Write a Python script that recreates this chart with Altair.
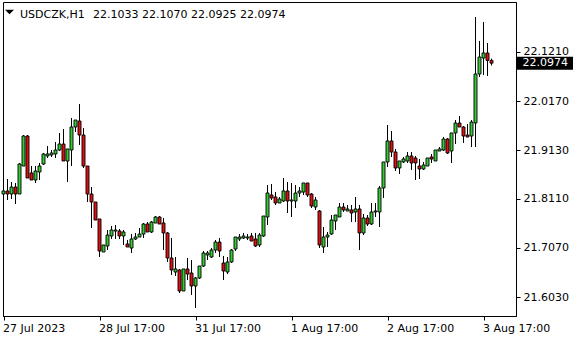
import json
import altair as alt
import pandas as pd

symbol = "USDCZK"
timeframe = "H1"

opens = [
    21.8208, 21.8272, 21.8208, 21.8356, 21.8208, 21.8800, 21.9434, 21.8652, 21.8504, 21.8673,
    21.8842, 21.9012, 21.9033, 21.9054, 21.9138, 21.9265, 21.8906, 21.9138, 21.9625, 21.9751,
    21.9455, 21.8800, 21.8208, 21.8039, 21.7680, 21.6982, 21.7109, 21.7320, 21.7426, 21.7426,
    21.7320, 21.7151, 21.7066, 21.7257, 21.7299, 21.7362, 21.7574, 21.7405, 21.7595, 21.7722,
    21.7595, 21.7384, 21.6855, 21.6559, 21.6602, 21.6158, 21.6623, 21.6538, 21.6263, 21.6432,
    21.6686, 21.6919, 21.6876, 21.7024, 21.7193, 21.6749, 21.6559, 21.6771, 21.7045, 21.7257,
    21.7278, 21.7278, 21.7320, 21.7257, 21.7130, 21.7320, 21.7722, 21.8187, 21.8145, 21.8018,
    21.8060, 21.8272, 21.8060, 21.8060, 21.8229, 21.8250, 21.8441, 21.8208, 21.7933, 21.7849,
    21.7088, 21.7299, 21.7362, 21.7637, 21.7722, 21.7933, 21.7849, 21.7870, 21.7828, 21.7891,
    21.7384, 21.7701, 21.7574, 21.7828, 21.7828, 21.8335, 21.8885, 21.9329, 21.9096, 21.8758,
    21.8885, 21.8906, 21.9012, 21.8969, 21.8800, 21.8737, 21.8800, 21.8990, 21.8906, 21.9117,
    21.9138, 21.9371, 21.9117, 21.9498, 21.9709, 21.9625, 21.9455, 21.9434, 21.9709, 22.0745,
    22.1083, 22.1189, 22.1033,
]
highs = [
    21.8610, 21.8525, 21.8462, 21.8441, 21.8864, 21.9455, 21.9455, 21.8800, 21.8800, 21.8864,
    21.9075, 21.9223, 21.9138, 21.9307, 21.9498, 21.9582, 21.9160, 21.9815, 21.9772, 22.0111,
    21.9603, 21.8800, 21.8356, 21.8039, 21.7680, 21.7130, 21.7447, 21.7532, 21.7553, 21.7468,
    21.7447, 21.7236, 21.7362, 21.7384, 21.7489, 21.7595, 21.7616, 21.7637, 21.7743, 21.7743,
    21.7701, 21.7405, 21.7278, 21.6876, 21.6623, 21.6623, 21.6855, 21.6813, 21.6454, 21.6686,
    21.7003, 21.7003, 21.7066, 21.7236, 21.7278, 21.6898, 21.6876, 21.7045, 21.7299, 21.7362,
    21.7384, 21.7362, 21.7384, 21.7384, 21.7384, 21.7743, 21.8398, 21.8420, 21.8250, 21.8145,
    21.8546, 21.8462, 21.8441, 21.8398, 21.8356, 21.8441, 21.8441, 21.8229, 21.8145, 21.7870,
    21.7510, 21.7405, 21.7764, 21.7764, 21.8018, 21.8018, 21.7976, 21.7976, 21.8145, 21.7976,
    21.7785, 21.7764, 21.8018, 21.8018, 21.8377, 21.8885, 21.9667, 21.9540, 21.9160, 21.8906,
    21.8990, 21.9096, 21.9096, 21.9012, 21.8948, 21.8885, 21.8969, 21.9054, 21.9138, 21.9202,
    21.9413, 21.9392, 21.9498, 21.9772, 21.9857, 21.9646, 21.9688, 21.9772, 22.1950, 22.1443,
    22.1844, 22.1400, 22.1070,
]
lows = [
    21.8081, 21.8081, 21.8102, 21.7997, 21.8208, 21.8800, 21.8546, 21.8504, 21.8441, 21.8504,
    21.8821, 21.8969, 21.8990, 21.8969, 21.9117, 21.8906, 21.8462, 21.8800, 21.9519, 21.9244,
    21.8758, 21.8039, 21.7489, 21.7658, 21.6876, 21.6982, 21.7024, 21.7257, 21.7257, 21.7257,
    21.7130, 21.7088, 21.6961, 21.7236, 21.7299, 21.7278, 21.7405, 21.7384, 21.7595, 21.7574,
    21.7024, 21.6771, 21.6496, 21.6475, 21.6115, 21.6158, 21.6390, 21.6073, 21.5798, 21.6411,
    21.6665, 21.6813, 21.6855, 21.6961, 21.6876, 21.6390, 21.6517, 21.6749, 21.7003, 21.7214,
    21.7257, 21.7236, 21.7214, 21.7088, 21.7088, 21.7299, 21.7553, 21.8081, 21.7976, 21.8018,
    21.8039, 21.7806, 21.7722, 21.7912, 21.8145, 21.8187, 21.8145, 21.7912, 21.7870, 21.7066,
    21.6961, 21.7088, 21.7341, 21.7447, 21.7722, 21.7828, 21.7849, 21.7616, 21.7616, 21.7024,
    21.7341, 21.7532, 21.7553, 21.7722, 21.7510, 21.8124, 21.8779, 21.8990, 21.8694, 21.8631,
    21.8864, 21.8864, 21.8716, 21.8504, 21.8525, 21.8716, 21.8800, 21.8864, 21.8906, 21.9117,
    21.9117, 21.9054, 21.8864, 21.9265, 21.9625, 21.9286, 21.9413, 21.9202, 21.9202, 22.0682,
    22.0724, 22.0703, 22.0925,
]
closes = [
    21.8272, 21.8208, 21.8356, 21.8208, 21.8842, 21.9434, 21.8546, 21.8504, 21.8694, 21.8800,
    21.9054, 21.9054, 21.9075, 21.9138, 21.9265, 21.8906, 21.9160, 21.9625, 21.9772, 21.9455,
    21.8800, 21.8208, 21.8039, 21.7658, 21.7003, 21.7130, 21.7341, 21.7447, 21.7447, 21.7320,
    21.7405, 21.7088, 21.7257, 21.7299, 21.7362, 21.7574, 21.7405, 21.7616, 21.7722, 21.7574,
    21.7384, 21.6855, 21.6602, 21.6623, 21.6158, 21.6623, 21.6517, 21.6263, 21.6432, 21.6686,
    21.6961, 21.6961, 21.7024, 21.7193, 21.7003, 21.6580, 21.6771, 21.7024, 21.7299, 21.7299,
    21.7320, 21.7299, 21.7214, 21.7109, 21.7341, 21.7743, 21.8229, 21.8124, 21.8018, 21.8102,
    21.8272, 21.8060, 21.8081, 21.8229, 21.8272, 21.8441, 21.8187, 21.7954, 21.8081, 21.7130,
    21.7299, 21.7341, 21.7658, 21.7764, 21.7933, 21.7870, 21.7891, 21.7806, 21.7891, 21.7384,
    21.7701, 21.7574, 21.7828, 21.7849, 21.8335, 21.8885, 21.9329, 21.9096, 21.8758, 21.8906,
    21.8948, 21.9012, 21.8864, 21.8864, 21.8737, 21.8821, 21.8969, 21.8948, 21.9138, 21.9160,
    21.9371, 21.9075, 21.9498, 21.9709, 21.9625, 21.9434, 21.9413, 21.9730, 22.0745, 22.1104,
    22.1189, 22.1033, 22.0974,
]

tick_positions = [0, 24, 48, 72, 96, 120]
tick_labels = ["27 Jul 2023", "28 Jul 17:00", "31 Jul 17:00", "1 Aug 17:00", "2 Aug 17:00", "3 Aug 17:00"]
price_ticks = [21.6030, 21.7070, 21.8110, 21.9130, 22.0170, 22.1210]

GREEN = "#33CC33"
RED = "#E01010"
FONT = "DejaVu Sans"

df = pd.DataFrame({
    "i": list(range(len(opens))),
    "open": opens,
    "high": highs,
    "low": lows,
    "close": closes,
})
last = df.iloc[[-1]].copy()
last["sym"] = f"{symbol},{timeframe}"
last["ohlc"] = " ".join(f"{v:.4f}" for v in (opens[-1], highs[-1], lows[-1], closes[-1]))

xscale = alt.Scale(domain=[-0.125, 128.125], nice=False, zero=False, padding=0)
yscale = alt.Scale(domain=[21.5629, 22.2267], nice=False, zero=False, padding=0)

label_expr = f"{json.dumps(tick_labels)}[indexof({json.dumps(tick_positions)}, datum.value)]"

x_enc = alt.X("i:Q", scale=xscale, title=None,
              axis=alt.Axis(values=tick_positions, labelExpr=label_expr, labelAlign="left",
                            labelBaseline="top", labelPadding=2, labelFlush=False,
                            labelOverlap=False, tickSize=4, grid=False, labelOffset=-1))
y_axis = alt.Axis(orient="right", values=price_ticks, format=".4f", labelAlign="left",
                  labelPadding=3, tickSize=4, grid=False, labelOverlap=False, labelFlush=False)

base = alt.Chart(df)

wicks = base.mark_rule(color="black", strokeWidth=1).encode(
    x=x_enc,
    y=alt.Y("low:Q", scale=yscale, axis=y_axis, title=None),
    y2="high:Q",
)

bodies = base.mark_bar(width=3, stroke="black", strokeWidth=0.9).encode(
    x=alt.X("i:Q", scale=xscale, title=None),
    y=alt.Y("open:Q", scale=yscale, title=None),
    y2="close:Q",
    fill=alt.condition("datum.close >= datum.open", alt.value(GREEN), alt.value(RED)),
)

box_shape = "M-1,-0.232L1,-0.232L1,0.232L-1,0.232Z"
price_box = alt.Chart(last).mark_point(shape=box_shape, size=3136, filled=True,
                                       fill="black", strokeWidth=0, opacity=1).encode(
    x=alt.value(542),
    y=alt.Y("close:Q", scale=yscale, title=None),
)
price_text = alt.Chart(last).mark_text(align="left", baseline="middle", color="white",
                                       font=FONT, fontSize=11).encode(
    x=alt.value(519.5),
    y=alt.Y("close:Q", scale=yscale, title=None),
    text=alt.Text("close:Q", format=".4f"),
)

tri = alt.Chart(last).mark_point(shape="M-1,-0.5L1,-0.5L0,0.5Z", size=81, filled=True,
                                 fill="black", strokeWidth=0, opacity=1).encode(
    x=alt.value(6.5), y=alt.value(10))
head_sym = alt.Chart(last).mark_text(align="left", baseline="alphabetic", color="black",
                                     font=FONT, fontSize=11).encode(
    x=alt.value(17), y=alt.value(15.5), text="sym:N")
head_vals = alt.Chart(last).mark_text(align="left", baseline="alphabetic", color="black",
                                      font=FONT, fontSize=11).encode(
    x=alt.value(90), y=alt.value(15.5), text="ohlc:N")

chart = alt.layer(wicks, bodies, price_box, price_text, tri, head_sym, head_vals).properties(
    width=513, height=314,
    autosize=alt.AutoSizeParams(type="none"),
    padding={"left": 3, "top": 2, "right": 64, "bottom": 24},
    background="white",
).configure_view(stroke="black", strokeWidth=1).configure_axis(
    labelFont=FONT, labelFontSize=11, labelColor="black", tickColor="black",
    domainColor="black", domainWidth=1, tickWidth=1,
).configure_scale(continuousPadding=0)

chart.save("out.html", embed_options={"renderer": "svg", "actions": False})
